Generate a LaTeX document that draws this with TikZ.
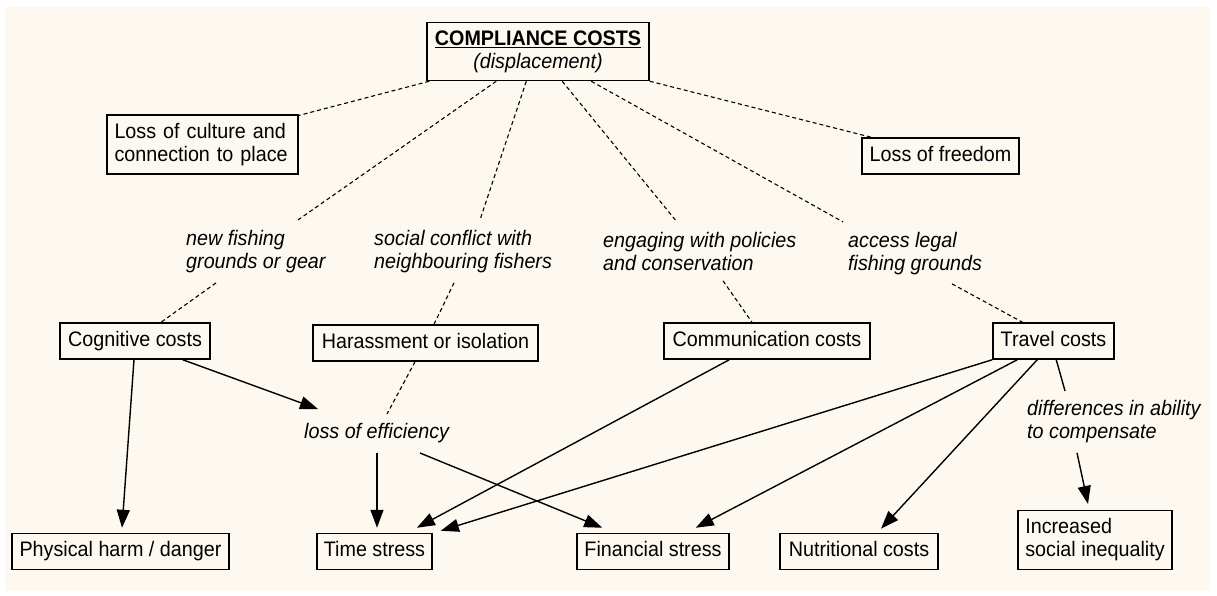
\documentclass[tikz,border=0pt]{standalone}
\usepackage{fontspec}
\setmainfont[FakeStretch=0.94]{Liberation Sans}
\usetikzlibrary{arrows.meta}
\definecolor{cream}{RGB}{253,249,240}
\begin{document}
\begin{tikzpicture}[x=1pt,y=-1pt,
  every node/.style={font=\fontsize{21}{23}\selectfont},
  box/.style={draw, line width=1.5pt, inner xsep=7pt, inner ysep=0pt, minimum height=36pt, text height=15pt, text depth=4.8pt},
  boxtwo/.style={draw, line width=1.5pt, inner xsep=7.5pt, inner ysep=8pt, align=left},
  lbl/.style={font=\fontsize{21}{23}\selectfont\itshape, inner sep=0pt, align=left, anchor=west},
  dl/.style={line width=1.1pt, dash pattern=on 4pt off 3pt},
  arr/.style={line width=1.4pt, -{Triangle[length=18pt,width=13pt]}},
  pl/.style={line width=1.4pt}]
\fill[white] (0,0) rectangle (1217,595);
\fill[cream] (5,7) rectangle (1210,591);
\useasboundingbox (0,0) rectangle (1217,595);

% boxes
\node[draw, line width=1.5pt, inner xsep=7pt, inner ysep=8pt, align=center, minimum width=222pt] (top) at (538,51.5)
  {\underline{\textbf{COMPLIANCE COSTS}}\\\textit{(displacement)}};
\node[boxtwo, text width=176pt] (culture) at (202.5,144.5) {Loss of culture and\\connection to place};
\node[box, minimum width=157pt] (freedom) at (940.5,156) {Loss of freedom};
\node[box, minimum width=150pt] (cog) at (135,341) {Cognitive costs};
\node[box, minimum width=225pt] (harass) at (425.5,343) {Harassment or isolation};
\node[box, minimum width=206pt] (comm) at (767,341) {Communication costs};
\node[box, minimum width=121pt] (travel) at (1053.5,341) {Travel costs};
\node[box, minimum width=217pt] (phys) at (120.5,551.5) {Physical harm / danger};
\node[box, minimum width=115pt] (time) at (374.5,551.5) {Time stress};
\node[box, minimum width=152pt] (fin) at (653,551.5) {Financial stress};
\node[box, minimum width=158pt] (nut) at (859,551.5) {Nutritional costs};
\node[boxtwo, minimum width=154pt] (ineq) at (1095,540) {Increased\\social inequality};

% labels
\node[lbl] (newfish) at (186,251.4) {new fishing\\grounds or gear};
\node[lbl] (social) at (374,251.4) {social conflict with\\neighbouring fishers};
\node[lbl] (engage) at (603,251.4) {engaging with policies\\and conservation};
\node[lbl] (access) at (848,253.4) {access legal\\fishing grounds};
\node[lbl] (loss) at (304,433) {loss of efficiency};
\node[lbl] (diff) at (1027,421.4) {differences in ability\\to compensate};

% dashed connectors
\draw[dl] ([xshift=3pt]top.south west) -- ([yshift=-1pt]culture.north east);
\draw[dl] ([xshift=70pt]top.south west) -- ([xshift=112pt,yshift=10pt]newfish.north west);
\draw[dl] ([xshift=30pt,yshift=-10pt]newfish.south west) -- ([xshift=26pt]cog.north);
\draw[dl] ([xshift=100pt]top.south west) -- ([xshift=106pt,yshift=10pt]social.north west);
\draw[dl] ([xshift=80pt,yshift=-10pt]social.south west) -- ([xshift=8.5pt]harass.north);
\draw[dl] ([xshift=136pt]top.south west) -- ([xshift=74pt,yshift=10pt]engage.north west);
\draw[dl] ([xshift=120pt,yshift=-10pt]engage.south west) -- ([xshift=-15pt]comm.north);
\draw[dl] ([xshift=165pt]top.south west) -- ([xshift=-5pt,yshift=10pt]access.north west);
\draw[dl] ([xshift=104pt,yshift=-9pt]access.south west) -- ([xshift=-31pt]travel.north);
\draw[dl] (top.south east) -- ([xshift=10pt]freedom.north west);
\draw[dl] ([xshift=-10.5pt]harass.south) -- ([xshift=83pt,yshift=9pt]loss.north west);

% solid connectors
\draw[arr] ([xshift=-1pt]cog.south) -- ([xshift=1.5pt,yshift=5pt]phys.north);
\draw[arr] ([xshift=-28pt]cog.south east) -- ([xshift=14pt,yshift=14pt]loss.north west);
\draw[arr] ([xshift=73pt,yshift=-10pt]loss.south west) -- ([xshift=2.5pt,yshift=5pt]time.north);
\draw[arr] ([xshift=116pt,yshift=-10pt]loss.south west) -- ([xshift=26pt,yshift=5pt]fin.north west);
\draw[arr] ([xshift=66pt]comm.south west) -- ([xshift=-16pt,yshift=5pt]time.north east);
\draw[arr] (travel.south west) -- ([xshift=8pt,yshift=2pt]time.north east);
\draw[arr] ([xshift=25pt]travel.south west) -- ([xshift=-34pt,yshift=5pt]fin.north east);
\draw[arr] ([xshift=45pt]travel.south west) -- ([xshift=22pt,yshift=4pt]nut.north);
\draw[pl] ([xshift=64pt]travel.south west) -- ([xshift=38pt,yshift=9pt]diff.north west);
\draw[arr] ([xshift=50pt,yshift=-10pt]diff.south west) -- ([xshift=-7pt,yshift=6pt]ineq.north);
\end{tikzpicture}
\end{document}
